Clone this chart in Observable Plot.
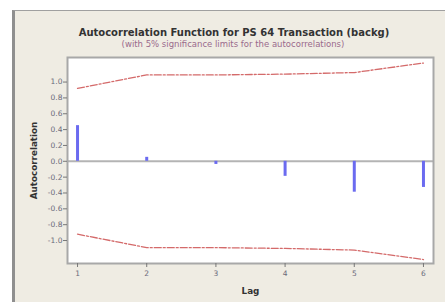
<!DOCTYPE html>
<html>
<head>
<meta charset="utf-8">
<script src="https://cdn.jsdelivr.net/npm/d3@7"></script>
<script src="https://cdn.jsdelivr.net/npm/@observablehq/plot@0.6"></script>
<style>
  html, body { margin: 0; padding: 0; background: #ffffff; }
  #wrap { position: relative; width: 445px; height: 303px; overflow: hidden; font-family: "DejaVu Sans", Verdana, sans-serif; }
  #panel { position: absolute; left: 12px; top: 10px; width: 445px; height: 291px; background: #efece3; border-left: 3px solid #8f8f8f; border-top: 1px solid #a0a0a0; }
  #title { position: absolute; left: 0; width: 468px; top: 27px; text-align: center; font-weight: bold; font-size: 10px; color: #333; white-space: nowrap; }
  #subtitle { position: absolute; left: 0; width: 466px; top: 39px; text-align: center; font-size: 8.5px; color: #9a6a8c; white-space: nowrap; }
  #chart { position: absolute; left: 0; top: 0; }
  #chart svg { background: transparent !important; }
  #chart g[aria-label="y-axis label"] text, #chart g[aria-label="x-axis label"] text { font-weight: bold; fill: #333; font-size: 8.8px; }
  #chart g[aria-label="y-axis tick label"] text, #chart g[aria-label="x-axis tick label"] text { fill: #6a6a7a; }
</style>
</head>
<body>
<div id="wrap">
  <div id="panel"></div>
  <div id="title">Autocorrelation Function for PS 64 Transaction (backg)</div>
  <div id="subtitle">(with 5% significance limits for the autocorrelations)</div>
  <div id="chart"></div>
</div>
<script>
const lags = [1, 2, 3, 4, 5, 6];
const acf = [0.45, 0.05, -0.04, -0.19, -0.39, -0.33];
const upperLimit = [0.92, 1.09, 1.09, 1.10, 1.12, 1.24];
const lowerLimit = [-0.92, -1.09, -1.09, -1.10, -1.12, -1.24];
const yTicks = [-1.0, -0.8, -0.6, -0.4, -0.2, 0.0, 0.2, 0.4, 0.6, 0.8, 1.0];

const bars = lags.map((l, i) => ({lag: l, value: acf[i]}));
const upper = lags.map((l, i) => ({lag: l, value: upperLimit[i]}));
const lower = lags.map((l, i) => ({lag: l, value: lowerLimit[i]}));

const chart = Plot.plot({
  width: 445,
  height: 303,
  marginLeft: 67,
  marginRight: 12,
  marginTop: 57,
  marginBottom: 40,
  style: {fontFamily: "DejaVu Sans, Verdana, sans-serif", fontSize: "7.5px", background: "transparent"},
  x: {domain: [0.855, 6.145]},
  y: {domain: [-1.29, 1.31]},
  marks: [
    Plot.frame({fill: "white", stroke: "none"}),
    Plot.ruleY([0], {stroke: "#b4b4b4", strokeWidth: 2}),
    Plot.ruleX(bars, {x: "lag", y1: 0, y2: "value", stroke: "#6b6bf0", strokeWidth: 3}),
    Plot.line(upper, {x: "lag", y: "value", stroke: "#d46a6a", strokeWidth: 1.3, strokeDasharray: "7,2,2,2"}),
    Plot.line(lower, {x: "lag", y: "value", stroke: "#d46a6a", strokeWidth: 1.3, strokeDasharray: "7,2,2,2"}),
    Plot.frame({stroke: "#a8a8a8", strokeWidth: 2}),
    Plot.axisY({ticks: yTicks, tickFormat: d => d.toFixed(1), tickSize: 4, tickPadding: 1, stroke: "#777",
      label: "Autocorrelation", labelAnchor: "center", labelOffset: 37, labelArrow: "none"}),
    Plot.axisX({ticks: lags, tickFormat: d => String(d), tickSize: 4, tickPadding: 3, stroke: "#777",
      label: "Lag", labelAnchor: "center", labelOffset: 30, labelArrow: "none"})
  ]
});
document.getElementById("chart").appendChild(chart);
</script>
</body>
</html>
